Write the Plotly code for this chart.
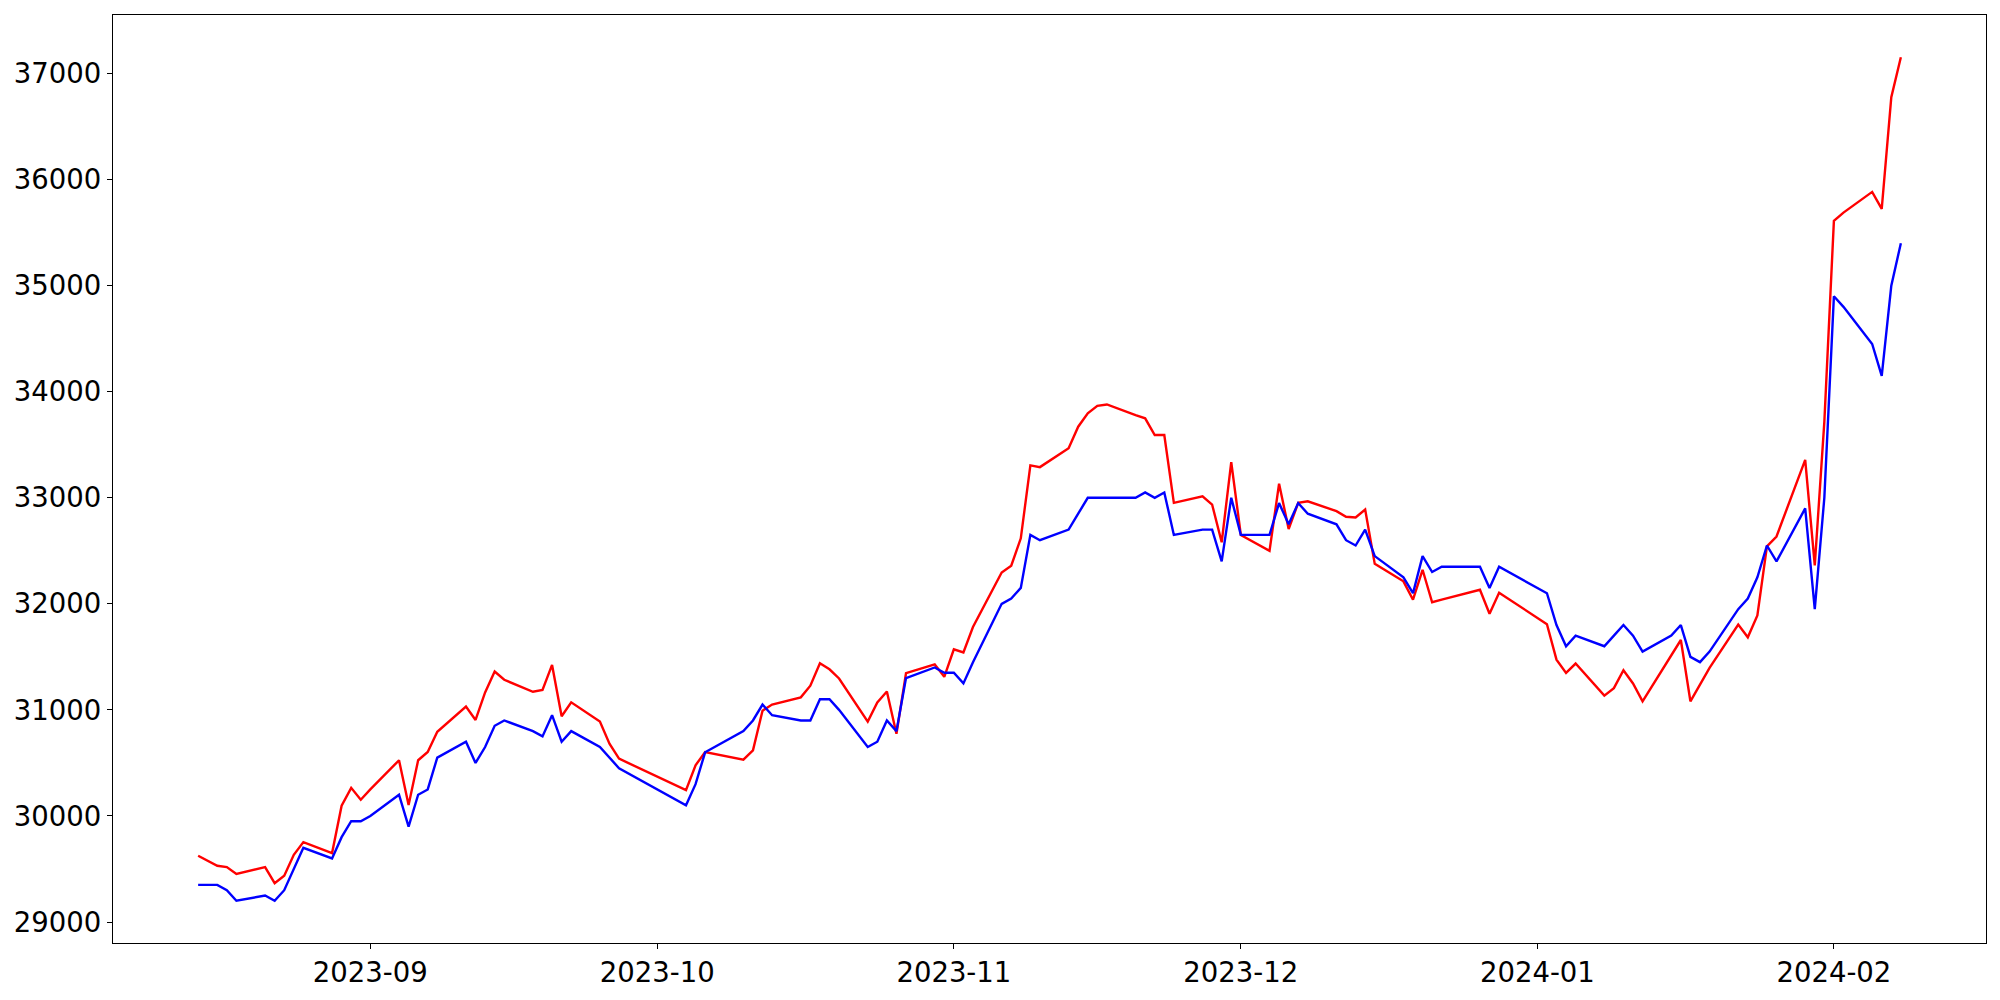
import plotly.graph_objects as go

dates = [
    "2023-08-14", "2023-08-16", "2023-08-17", "2023-08-18", "2023-08-21", "2023-08-22", "2023-08-23",
    "2023-08-24", "2023-08-25", "2023-08-28", "2023-08-29", "2023-08-30", "2023-08-31",
    "2023-09-01", "2023-09-04", "2023-09-05", "2023-09-06", "2023-09-07", "2023-09-08", "2023-09-11",
    "2023-09-12", "2023-09-13", "2023-09-14", "2023-09-15", "2023-09-18", "2023-09-19", "2023-09-20",
    "2023-09-21", "2023-09-22", "2023-09-25", "2023-09-26", "2023-09-27",
    "2023-10-04", "2023-10-05", "2023-10-06", "2023-10-10", "2023-10-11", "2023-10-12", "2023-10-13",
    "2023-10-16", "2023-10-17", "2023-10-18", "2023-10-19", "2023-10-20", "2023-10-23", "2023-10-24",
    "2023-10-25", "2023-10-26", "2023-10-27", "2023-10-30", "2023-10-31",
    "2023-11-01", "2023-11-02", "2023-11-03", "2023-11-06", "2023-11-07", "2023-11-08", "2023-11-09",
    "2023-11-10", "2023-11-13", "2023-11-14", "2023-11-15", "2023-11-16", "2023-11-17", "2023-11-20",
    "2023-11-21", "2023-11-22", "2023-11-23", "2023-11-24", "2023-11-27", "2023-11-28", "2023-11-29",
    "2023-11-30",
    "2023-12-01", "2023-12-04", "2023-12-05", "2023-12-06", "2023-12-07", "2023-12-08", "2023-12-11",
    "2023-12-12", "2023-12-13", "2023-12-14", "2023-12-15", "2023-12-18", "2023-12-19", "2023-12-20",
    "2023-12-21", "2023-12-22", "2023-12-26", "2023-12-27", "2023-12-28",
    "2024-01-02", "2024-01-03", "2024-01-04", "2024-01-05", "2024-01-08", "2024-01-09", "2024-01-10",
    "2024-01-11", "2024-01-12", "2024-01-15", "2024-01-16", "2024-01-17", "2024-01-18", "2024-01-19",
    "2024-01-22", "2024-01-23", "2024-01-24", "2024-01-25", "2024-01-26", "2024-01-29", "2024-01-30",
    "2024-01-31",
    "2024-02-01", "2024-02-02", "2024-02-05", "2024-02-06", "2024-02-07", "2024-02-08",
]

red_values = [
    29625, 29530, 29518, 29453, 29518, 29366, 29437, 29634, 29753, 29650, 30097, 30265, 30153,
    30250, 30525, 30103, 30525, 30603, 30793, 31031, 30905, 31165, 31362, 31284, 31171, 31187, 31424,
    30940, 31071, 30890, 30681, 30540,
    30243, 30478, 30603, 30531, 30618, 30993, 31050, 31118, 31228, 31440, 31383, 31296, 30890, 31071,
    31174, 30774, 31346, 31430, 31312,
    31571, 31541, 31781, 32296, 32360, 32618, 33305, 33289, 33467, 33670, 33796, 33867, 33880, 33780,
    33749, 33592, 33592, 32952, 33014, 32936, 32580, 33336,
    32649, 32499, 33133, 32705, 32952, 32967, 32874, 32821, 32814, 32889, 32377, 32212, 32039, 32321,
    32015, 32039, 32133, 31906, 32105,
    31808, 31474, 31349, 31437, 31134, 31205, 31374, 31249, 31081, 31509, 31659, 31081, 31243, 31396,
    31804, 31684, 31891, 32542, 32635, 33358, 32363, 33715,
    35611, 35689, 35884, 35724, 36777, 37154,
]

blue_values = [
    29350, 29350, 29300, 29200, 29250, 29200, 29300, 29500, 29700, 29600, 29800, 29950, 29950,
    30000, 30200, 29900, 30200, 30250, 30550, 30700, 30500, 30650, 30850, 30900, 30800, 30750, 30950,
    30700, 30800, 30650, 30550, 30450,
    30100, 30300, 30600, 30800, 30900, 31050, 30950, 30900, 30900, 31100, 31100, 31000, 30650, 30700,
    30900, 30800, 31300, 31400, 31350,
    31350, 31250, 31450, 32000, 32050, 32150, 32650, 32600, 32700, 32850, 33000, 33000, 33000, 33000,
    33050, 33000, 33050, 32650, 32700, 32700, 32400, 33000,
    32650, 32650, 32950, 32750, 32950, 32850, 32750, 32600, 32550, 32700, 32450, 32250, 32100, 32450,
    32300, 32350, 32350, 32150, 32350,
    32100, 31800, 31600, 31700, 31600, 31700, 31800, 31700, 31550, 31700, 31800, 31500, 31450, 31550,
    31950, 32050, 32250, 32550, 32400, 32900, 31950, 33000,
    34900, 34800, 34450, 34150, 35000, 35400,
]

y_ticks = [29000, 30000, 31000, 32000, 33000, 34000, 35000, 36000, 37000]

fig = go.Figure()
fig.add_trace(go.Scatter(x=dates, y=red_values, mode="lines",
                         line=dict(color="#ff0000", width=2.4), name="red"))
fig.add_trace(go.Scatter(x=dates, y=blue_values, mode="lines",
                         line=dict(color="#0000ff", width=2.4), name="blue"))

axis_common = dict(
    showline=True, linecolor="black", linewidth=1.3, mirror=True,
    ticks="outside", ticklen=5, tickwidth=1.3, tickcolor="black",
    showgrid=False, zeroline=False,
    tickfont=dict(family="DejaVu Sans", size=27.5, color="black"),
)

fig.update_layout(
    width=2000, height=1000,
    margin=dict(l=113, r=14, t=15, b=53),
    showlegend=False,
    plot_bgcolor="white", paper_bgcolor="white",
    font=dict(family="DejaVu Sans", size=27.5, color="black"),
    xaxis=dict(type="date", range=["2023-08-05 02:24", "2024-02-16 21:36"],
               tickformat="%Y-%m", dtick="M1", tick0="2023-09-01", **axis_common),
    yaxis=dict(range=[28802, 37552], tickvals=y_ticks, tickformat="d", **axis_common),
)

fig.write_html("out.html", config={"displayModeBar": False},
               post_script="document.body.style.margin='0';")
